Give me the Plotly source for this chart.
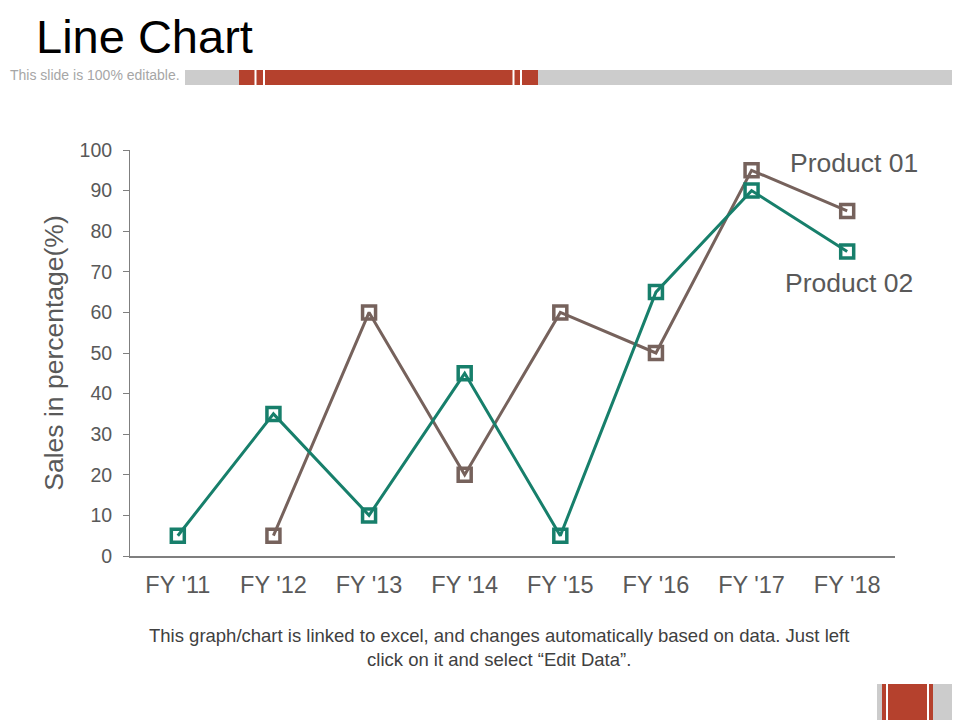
import plotly.graph_objects as go

# chart data
years = ["FY '11", "FY '12", "FY '13", "FY '14", "FY '15", "FY '16", "FY '17", "FY '18"]
product_01 = [None, 5, 60, 20, 60, 50, 95, 85]
product_02 = [5, 35, 10, 45, 5, 65, 90, 75]

W, H = 960, 720
OFF = 8  # page body margin shifts the figure by 8px
BROWN = "#76625c"
TEAL = "#177f6b"
RED = "#b5412d"
GREY_BAR = "#cccccc"
TXT = "#595959"
FONT = "Liberation Sans, Arial, sans-serif"


def px(x):
    return (x - OFF) / W


def py(y):
    return 1 - (y - OFF) / H


fig = go.Figure()
fig.add_trace(go.Scatter(x=years, y=product_01, name="Product 01", mode="lines+markers",
                         line=dict(color=BROWN, width=3),
                         marker=dict(symbol="square-open", size=13, color=BROWN,
                                     line=dict(color=BROWN, width=3.5))))
fig.add_trace(go.Scatter(x=years, y=product_02, name="Product 02", mode="lines+markers",
                         line=dict(color=TEAL, width=3),
                         marker=dict(symbol="square-open", size=13, color=TEAL,
                                     line=dict(color=TEAL, width=3.5))))

fig.update_layout(
    width=W, height=H,
    margin=dict(l=0, r=0, t=0, b=0),
    paper_bgcolor="white", plot_bgcolor="white",
    showlegend=False,
    font=dict(family=FONT, color=TXT),
    xaxis=dict(domain=[px(130), px(895)], range=[-0.5, 7.5], showgrid=False,
               showline=True, linecolor="#7f7f7f", linewidth=1.5, ticks="",
               tickfont=dict(size=23.5, color=TXT), ticklabelstandoff=7,
               zeroline=False, automargin=False),
    yaxis=dict(domain=[py(556), py(150)], range=[0, 100], dtick=10, showgrid=False,
               showline=True, linecolor="#7f7f7f", linewidth=1, ticks="outside",
               ticklen=6, tickcolor="#7f7f7f", tickfont=dict(size=19.5, color=TXT),
               ticklabelstandoff=7,
               zeroline=False, automargin=False,
               title=dict(text="Sales in percentage(%)", font=dict(size=26.5, color=TXT),
                          standoff=8)),
)

# header: title, note and decorative bars
fig.add_annotation(text="Line Chart", x=px(34), y=1, xref="paper", yref="paper",
                   xanchor="left", yanchor="top", showarrow=False,
                   font=dict(size=47, color="black"))
fig.add_annotation(text="This slide is 100% editable.", x=0, y=py(75), xref="paper",
                   yref="paper", xanchor="left", yanchor="middle", showarrow=False,
                   font=dict(size=14, color="#a6a6a6"))

shapes = [
    (185, 70, 960, 85, GREY_BAR),
    (239, 70, 538, 85, RED),
    (254.5, 70, 256.5, 85, "white"),
    (263, 70, 265, 85, "white"),
    (512.5, 70, 514.5, 85, "white"),
    (520, 70, 522, 85, "white"),
    (877, 684, 960, 720, GREY_BAR),
    (882, 684, 933, 720, RED),
    (886, 684, 888, 720, "white"),
    (927, 684, 929, 720, "white"),
]
for x0, y0, x1, y1, c in shapes:
    fig.add_shape(type="rect", xref="paper", yref="paper", x0=px(x0), x1=px(x1),
                  y0=py(y0), y1=py(y1), fillcolor=c, line=dict(width=0), layer="below")

# series labels
fig.add_annotation(text="Product 01", x="FY '18", y=96.8, xshift=7, showarrow=False,
                   font=dict(size=26.5, color=TXT))
fig.add_annotation(text="Product 02", x="FY '18", y=67.3, xshift=2, showarrow=False,
                   font=dict(size=26.5, color=TXT))

# footer note
fig.add_annotation(text="This graph/chart is linked to excel, and changes automatically based on data. Just left<br>click on it and select “Edit Data”.",
                   x=px(499), y=py(647), xref="paper", yref="paper", showarrow=False,
                   xanchor="center", yanchor="middle",
                   align="center", font=dict(size=18.5, color="#404040"))

fig.write_html("out.html")
